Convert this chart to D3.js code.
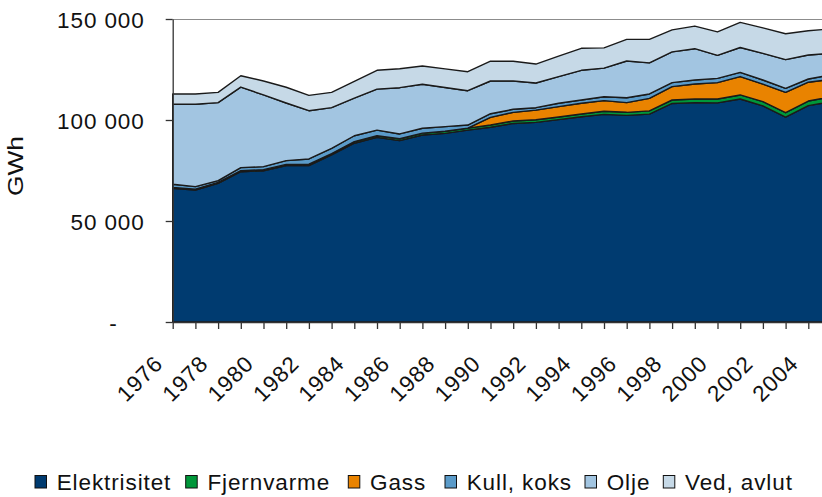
<!DOCTYPE html>
<html>
<head>
<meta charset="utf-8">
<script src="https://cdn.jsdelivr.net/npm/d3@7/dist/d3.min.js"></script>
<style>
    body { margin: 0; background: #fff; }
    svg { display: block; font-family: "Liberation Sans", Arial, sans-serif; }
    .lbl { font-size: 22.5px; letter-spacing: 0.9px; fill: #111; }
</style>
</head>
<body>
<svg id="chart" width="822" height="497"></svg>
<script>
    var years = [1976, 1977, 1978, 1979, 1980, 1981, 1982, 1983, 1984, 1985,
        1986, 1987, 1988, 1989, 1990, 1991, 1992, 1993, 1994, 1995,
        1996, 1997, 1998, 1999, 2000, 2001, 2002, 2003, 2004, 2005];

    // GWh per year
    var elektrisitet = [66200, 65300, 68600, 74400, 74800, 77400, 77400, 82700, 88500, 91400,
        89800, 92600, 93400, 95000, 96400, 98300, 98800, 100200, 101600, 102800,
        102300, 102900, 108200, 108600, 108500, 110400, 107000, 101400, 107100, 109100];
    var fjernvarme = [400, 400, 500, 500, 600, 600, 700, 700, 800, 800,
        900, 900, 1000, 1000, 1100, 1200, 1300, 1300, 1400, 1500,
        1500, 1600, 1700, 1800, 1900, 2000, 2100, 2200, 2300, 2400];
    var gass = [0, 0, 0, 0, 0, 0, 0, 0, 0, 0,
        0, 0, 0, 0, 3800, 4300, 4800, 5100, 5300, 5300,
        4800, 6200, 6600, 7400, 8100, 9100, 8700, 10100, 9300, 8600];
    var kull = [1600, 1300, 900, 1500, 1500, 1900, 2600, 2600, 2900, 2800,
        2400, 2400, 2300, 1500, 1800, 1500, 1200, 1700, 1600, 1900,
        2400, 2200, 2000, 2000, 2100, 2100, 2000, 2000, 1600, 2200];
    var olje = [39600, 40800, 38600, 39900, 35500, 28500, 23900, 20100, 18600, 20300,
        22900, 21800, 19400, 17000, 16200, 14000, 12200, 13200, 14700, 14200,
        18200, 15400, 15200, 15500, 11400, 12300, 13200, 14200, 11900, 10700];
    var ved = [5100, 5100, 5100, 5600, 6900, 7800, 7600, 7600, 8300, 9300,
        9400, 9000, 9200, 9400, 9800, 9800, 9400, 10100, 10900, 10000,
        10700, 11600, 10900, 11200, 11600, 12400, 12600, 12800, 12000, 12100];

    var seriesNames = ["Elektrisitet", "Fjernvarme", "Gass", "Kull, koks", "Olje", "Ved, avlut"];
    var seriesValues = [elektrisitet, fjernvarme, gass, kull, olje, ved];
    var seriesColors = ["#003b70", "#00973a", "#e98300", "#5b9bc9", "#a2c5e1", "#c6d9e7"];
    var yTicks = [0, 50000, 100000, 150000];

    var rows = years.map(function (yr, i) {
        var r = { year: yr };
        seriesNames.forEach(function (name, k) {
            r[name] = seriesValues[k][i];
        });
        return r;
    });

    var svg = d3.select("#chart");

    var margin = { top: 19, left: 172.7 },
        width = 658.3,   // 1976..2005, last year falls past the right edge
        height = 303;

    var x = d3.scaleLinear().domain([1976, 2005]).range([0, width]),
        y = d3.scaleLinear().domain([0, 150000]).range([height, 0]);

    var g = svg.append("g")
        .attr("transform", "translate(" + margin.left + "," + margin.top + ")");

    var stack = d3.stack().keys(seriesNames);
    var layers = stack(rows);

    var area = d3.area()
        .x(function (d) { return x(d.data.year); })
        .y0(function (d) { return y(d[0]); })
        .y1(function (d) { return y(d[1]); });

    // plot frame top line
    g.append("line")
        .attr("x1", 0).attr("x2", 700)
        .attr("y1", 0.5).attr("y2", 0.5)
        .attr("stroke", "#8c8c8c")
        .attr("stroke-width", 1.2);

    g.selectAll(".layer")
        .data(layers)
        .enter().append("path")
        .attr("class", "layer")
        .attr("d", area)
        .attr("fill", function (d, i) { return seriesColors[i]; })
        .attr("stroke", "#1a1a1a")
        .attr("stroke-width", 1.4)
        .attr("stroke-linejoin", "round");

    // y axis
    var yAxis = d3.axisLeft(y)
        .tickValues(yTicks)
        .tickSize(7)
        .tickSizeOuter(0)
        .tickPadding(21)
        .tickFormat(function (d) {
            return d === 0 ? "-" : d3.format(",")(d).replace(/,/g, " ");
        });

    var gy = g.append("g").call(yAxis);
    gy.attr("font-size", null).attr("font-family", null);
    gy.select(".domain").attr("stroke", "#333").attr("stroke-width", 1.3);
    gy.selectAll(".tick line").attr("stroke", "#333").attr("stroke-width", 1.3);
    gy.selectAll(".tick text")
        .attr("class", "lbl")
        .attr("dy", "0.36em")
        .attr("x", function (d) { return d === 0 ? -55 : -28; });

    // x axis
    var xAxis = d3.axisBottom(x)
        .tickValues(years)
        .tickSize(7)
        .tickSizeOuter(0)
        .tickFormat(function (d) { return d % 2 === 0 ? d : ""; });

    var gx = g.append("g")
        .attr("transform", "translate(0," + height + ")")
        .call(xAxis);
    gx.attr("font-size", null).attr("font-family", null);
    gx.select(".domain").attr("stroke", "#333").attr("stroke-width", 1.3);
    gx.selectAll(".tick line").attr("stroke", "#333").attr("stroke-width", 1.3);
    gx.selectAll(".tick text")
        .attr("class", "lbl")
        .attr("x", 0).attr("y", 0).attr("dy", 0)
        .attr("text-anchor", "end")
        .attr("transform", "translate(-9,43) rotate(-45)");

    // y title
    svg.append("text")
        .attr("class", "lbl")
        .attr("transform", "translate(23,166) rotate(-90)")
        .attr("text-anchor", "middle")
        .attr("textLength", 60)
        .attr("lengthAdjust", "spacingAndGlyphs")
        .style("letter-spacing", "0px")
        .text("GWh");

    // legend, swatch left edges as laid out in the original
    var legendX = [35, 185.7, 348.3, 445, 585, 663.3];
    var legend = svg.append("g").attr("class", "legend");
    seriesNames.forEach(function (name, i) {
        legend.append("rect")
            .attr("x", legendX[i]).attr("y", 475.5)
            .attr("width", 11.5).attr("height", 12.5)
            .attr("fill", seriesColors[i])
            .attr("stroke", "#111")
            .attr("stroke-width", 1);
        legend.append("text")
            .attr("class", "lbl")
            .attr("x", legendX[i] + 21.7)
            .attr("y", 489.5)
            .text(name);
    });
</script>
</body>
</html>
